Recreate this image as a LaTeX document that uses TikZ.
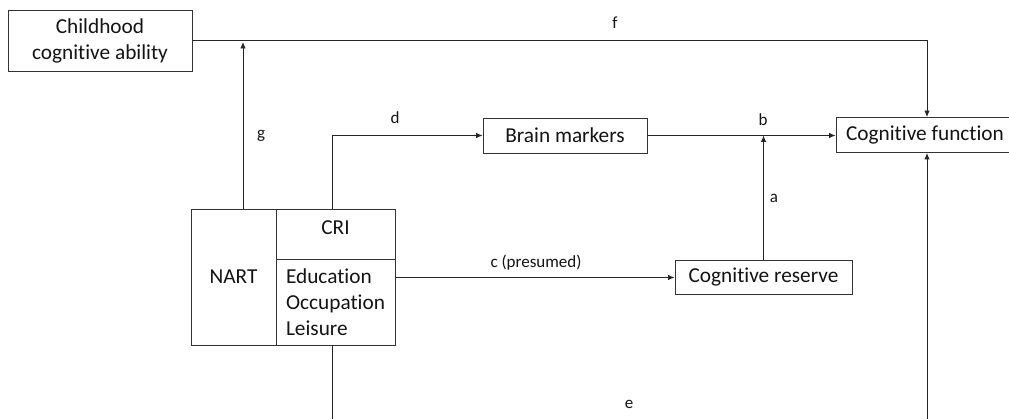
\documentclass[tikz,border=0pt]{standalone}
\usepackage{fontspec}
\setmainfont{Carlito}[Ligatures=NoCommon, RawFeature={-liga}]
\usetikzlibrary{arrows.meta}
\begin{document}
\begin{tikzpicture}[x=1pt,y=-1pt,
  box/.style={draw=black!80, line width=0.9pt, rectangle, inner sep=0pt,
              font=\fontsize{21.3}{26}\selectfont, text=black!92},
  lbl/.style={font=\fontsize{17}{20}\selectfont, text=black!92, inner sep=0pt},
  link/.style={draw=black!85, line width=0.9pt},
  arr/.style={link, -{Latex[length=6.5pt,width=5.5pt]}}]
\useasboundingbox (0,0) rectangle (1009,419);
\fill[white] (0,0) rectangle (1009,419);
\clip (0,0) rectangle (1009,419);

% boxes
\node[box, minimum width=184pt, minimum height=61pt, align=center] (child) at (100,40.5) {Childhood\\cognitive ability};
\node[box, minimum width=164pt, minimum height=35pt] (brain) at (565,135.5) {Brain markers};
\node[box, minimum width=178pt, minimum height=35pt] (cogf) at (925,135) {Cognitive function};
\node[box, minimum width=177pt, minimum height=34pt] (cogres) at (763.5,277.5) {Cognitive reserve};

% composite NART / CRI block
\node[box, minimum width=85pt, minimum height=136pt] (nart) at (233.5,277) {NART};
\node[box, minimum width=119pt, minimum height=50pt, text depth=12pt] (cri) at (335.5,234) {CRI};
\node[box, minimum width=119pt, minimum height=86pt, align=left] (act) at (335.5,302) {Education\\Occupation\\Leisure};

% connectors
\coordinate (gEnd) at (243,42);
\coordinate (eBend) at (332.5,424);
\draw[arr] (nart.north -| gEnd) -- (gEnd);
\draw[arr] (child.east) -| ([xshift=2pt]cogf.north);
\draw[arr] ([xshift=-3pt]cri.north) |- (brain.west);
\draw[arr] (brain.east) -- (brain.east -| cogf.west);
\draw[arr] (cogres.north) -- (cogres.north |- brain.east);
\draw[arr] (cogres.west -| act.east) -- (cogres.west);
\draw[arr] ([xshift=-3pt]act.south) -- (eBend) -| ([xshift=2pt]cogf.south);

% path labels
\node[lbl] (lf) at (615,23) {f};
\node[lbl] (lg) at (261,136) {g};
\node[lbl] (ld) at (395,118) {d};
\node[lbl] (lb) at (763,120) {b};
\node[lbl] (la) at (774,198) {a};
\node[lbl] (lc) at (536,263) {c (presumed)};
\node[lbl] (le) at (629,404) {e};
\end{tikzpicture}
\end{document}
